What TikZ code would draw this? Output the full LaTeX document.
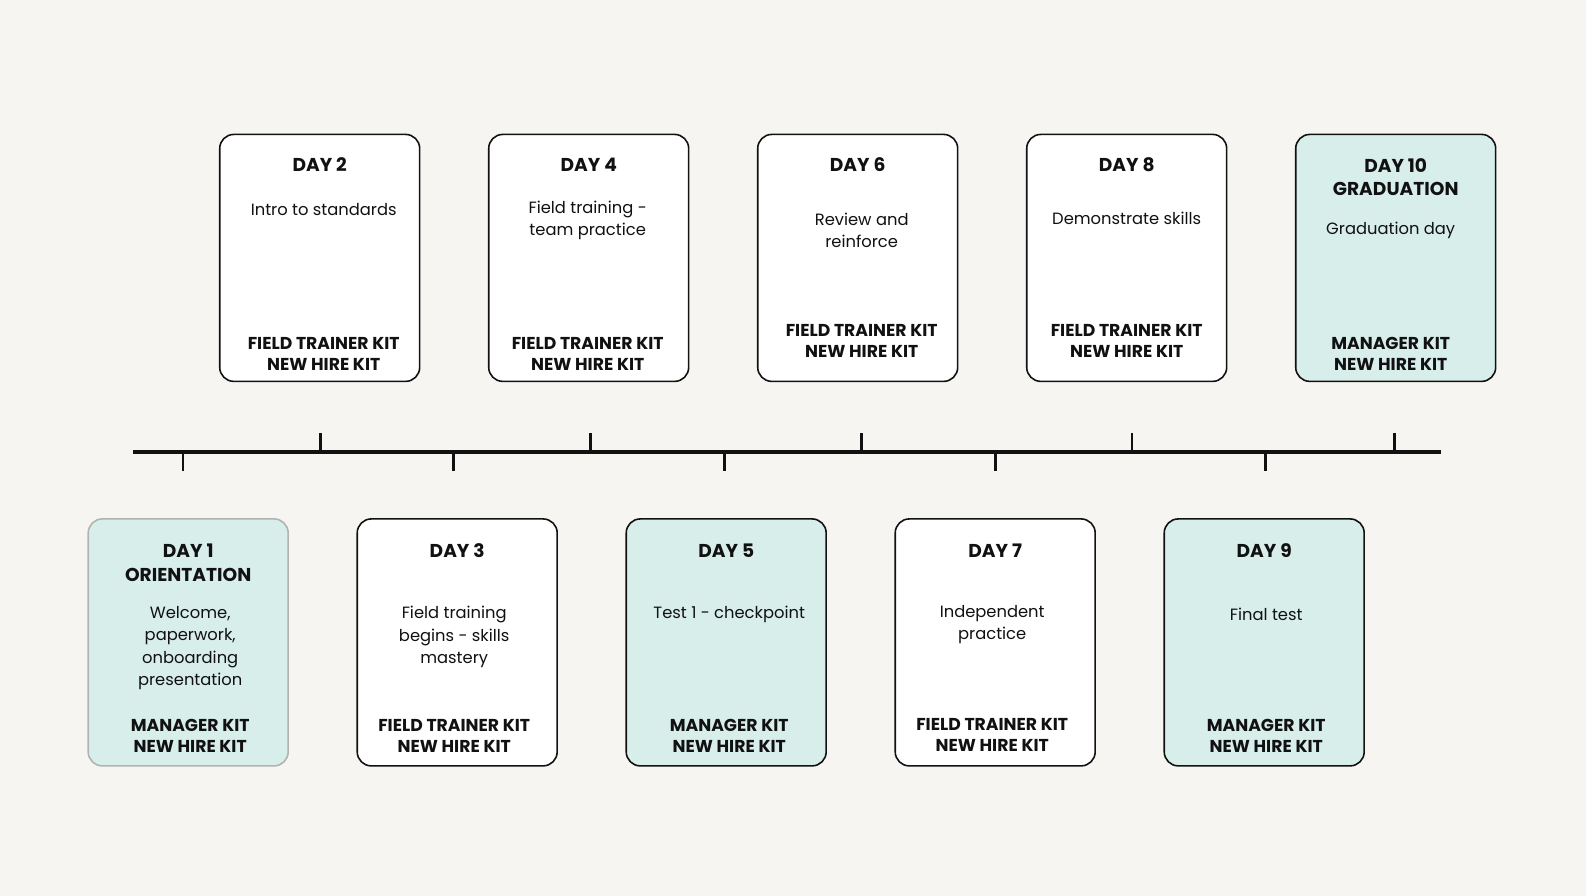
\documentclass[tikz,border=0pt]{standalone}
\usepackage{fontspec}
\setmainfont{Poppins}
\usepackage{tikz}
\usetikzlibrary{calc}
\definecolor{paper}{HTML}{F6F5F1}
\definecolor{mint}{HTML}{D7EEEA}
\definecolor{ink}{HTML}{111111}
\tikzset{
  daybox/.style={draw=ink, line width=0.9pt, rounded corners=8pt, fill=white,
    minimum width=4cm, minimum height=4.94cm, inner sep=0pt},
  mintbox/.style={daybox, fill=mint},
  daytitle/.style={font=\fontsize{10.6}{13.6}\selectfont\bfseries, align=center, inner sep=0pt, text=ink},
  daytext/.style={font=\fontsize{9.3}{12.7}\selectfont, align=center, inner sep=0pt, text=ink},
  kittext/.style={font=\fontsize{9.8}{12}\selectfont\bfseries, align=center, inner sep=0pt, text=ink},
  timeline/.style={ink, line width=1.9pt}
}

\begin{document}
\begin{tikzpicture}[x=0.02cm, y=-0.02cm]
\fill[paper] (0,0) rectangle (1586,896);
\useasboundingbox (0,0) rectangle (1586,896);

\draw[timeline] (132.5,452) -- (1441,452);
\foreach \x in {320.6, 590.7, 861.8, 1131.9, 1394.8} \draw[timeline, line width=1.5pt] (\x,452) -- (\x,433);
\foreach \x in {183.1, 453.2, 724.2, 995.3, 1265.4} \draw[timeline, line width=1.5pt] (\x,452) -- (\x,471.4);

% top row
\node[daybox] (d2) at (319.7,257.9) {};
\node[daybox] (d4) at (588.7,257.9) {};
\node[daybox] (d6) at (857.7,257.9) {};
\node[daybox] (d8) at (1126.7,257.9) {};
\node[mintbox] (d10) at (1395.7,257.9) {};

\node[daytitle] (t2) at ($(d2.north)+(0,31.4)$) {DAY 2};
\node[daytext] (s2) at ($(d2.north)+(4,75.9)$) {Intro to standards};
\node[kittext] (k2) at ($(d2.north)+(4,220)$) {FIELD TRAINER KIT\\NEW HIRE KIT};

\node[daytitle] (t4) at ($(d4.north)+(0,31.4)$) {DAY 4};
\node[daytext] (s4) at ($(d4.north)+(-1,87)$) {Field training -\\team practice};
\node[kittext] (k4) at ($(d4.north)+(-1,220)$) {FIELD TRAINER KIT\\NEW HIRE KIT};

\node[daytitle] (t6) at ($(d6.north)+(0,31.4)$) {DAY 6};
\node[daytext] (s6) at ($(d6.north)+(4,96.6)$) {Review and\\reinforce};
\node[kittext] (k6) at ($(d6.north)+(4,207.3)$) {FIELD TRAINER KIT\\NEW HIRE KIT};

\node[daytitle] (t8) at ($(d8.north)+(0,31.4)$) {DAY 8};
\node[daytext] (s8) at ($(d8.north)+(0,85)$) {Demonstrate skills};
\node[kittext] (k8) at ($(d8.north)+(0,206.9)$) {FIELD TRAINER KIT\\NEW HIRE KIT};

\node[daytitle] (t10) at ($(d10.north)+(0,43.5)$) {DAY 10\\GRADUATION};
\node[daytext] (s10) at ($(d10.north)+(-5,97.1)$) {Graduation day};
\node[kittext] (k10) at ($(d10.north)+(-5,220.5)$) {MANAGER KIT\\NEW HIRE KIT};

% bottom row
\node[mintbox, draw=black!30] (d1) at (188.2,642.4) {};
\node[daybox] (d3) at (457.2,642.4) {};
\node[mintbox] (d5) at (726.2,642.4) {};
\node[daybox] (d7) at (995.2,642.4) {};
\node[mintbox] (d9) at (1264.2,642.4) {};

\node[daytitle] (t1) at ($(d1.north)+(0,44.5)$) {DAY 1\\ORIENTATION};
\node[daytext] (s1) at ($(d1.north)+(2,129.9)$) {Welcome,\\paperwork,\\onboarding\\presentation};
\node[kittext] (k1) at ($(d1.north)+(2,218)$) {MANAGER KIT\\NEW HIRE KIT};

\node[daytitle] (t3) at ($(d3.north)+(0,32.3)$) {DAY 3};
\node[daytext] (s3) at ($(d3.north)+(-3,118.8)$) {Field training\\begins - skills\\mastery};
\node[kittext] (k3) at ($(d3.north)+(-3,218)$) {FIELD TRAINER KIT\\NEW HIRE KIT};

\node[daytitle] (t5) at ($(d5.north)+(0,32.3)$) {DAY 5};
\node[daytext] (s5) at ($(d5.north)+(3,96)$) {Test 1 - checkpoint};
\node[kittext] (k5) at ($(d5.north)+(3,218)$) {MANAGER KIT\\NEW HIRE KIT};

\node[daytitle] (t7) at ($(d7.north)+(0,32.3)$) {DAY 7};
\node[daytext] (s7) at ($(d7.north)+(-3,106.1)$) {Independent\\practice};
\node[kittext] (k7) at ($(d7.north)+(-3,216.4)$) {FIELD TRAINER KIT\\NEW HIRE KIT};

\node[daytitle] (t9) at ($(d9.north)+(0,32.3)$) {DAY 9};
\node[daytext] (s9) at ($(d9.north)+(2,96)$) {Final test};
\node[kittext] (k9) at ($(d9.north)+(2,218)$) {MANAGER KIT\\NEW HIRE KIT};
\end{tikzpicture}
\end{document}
